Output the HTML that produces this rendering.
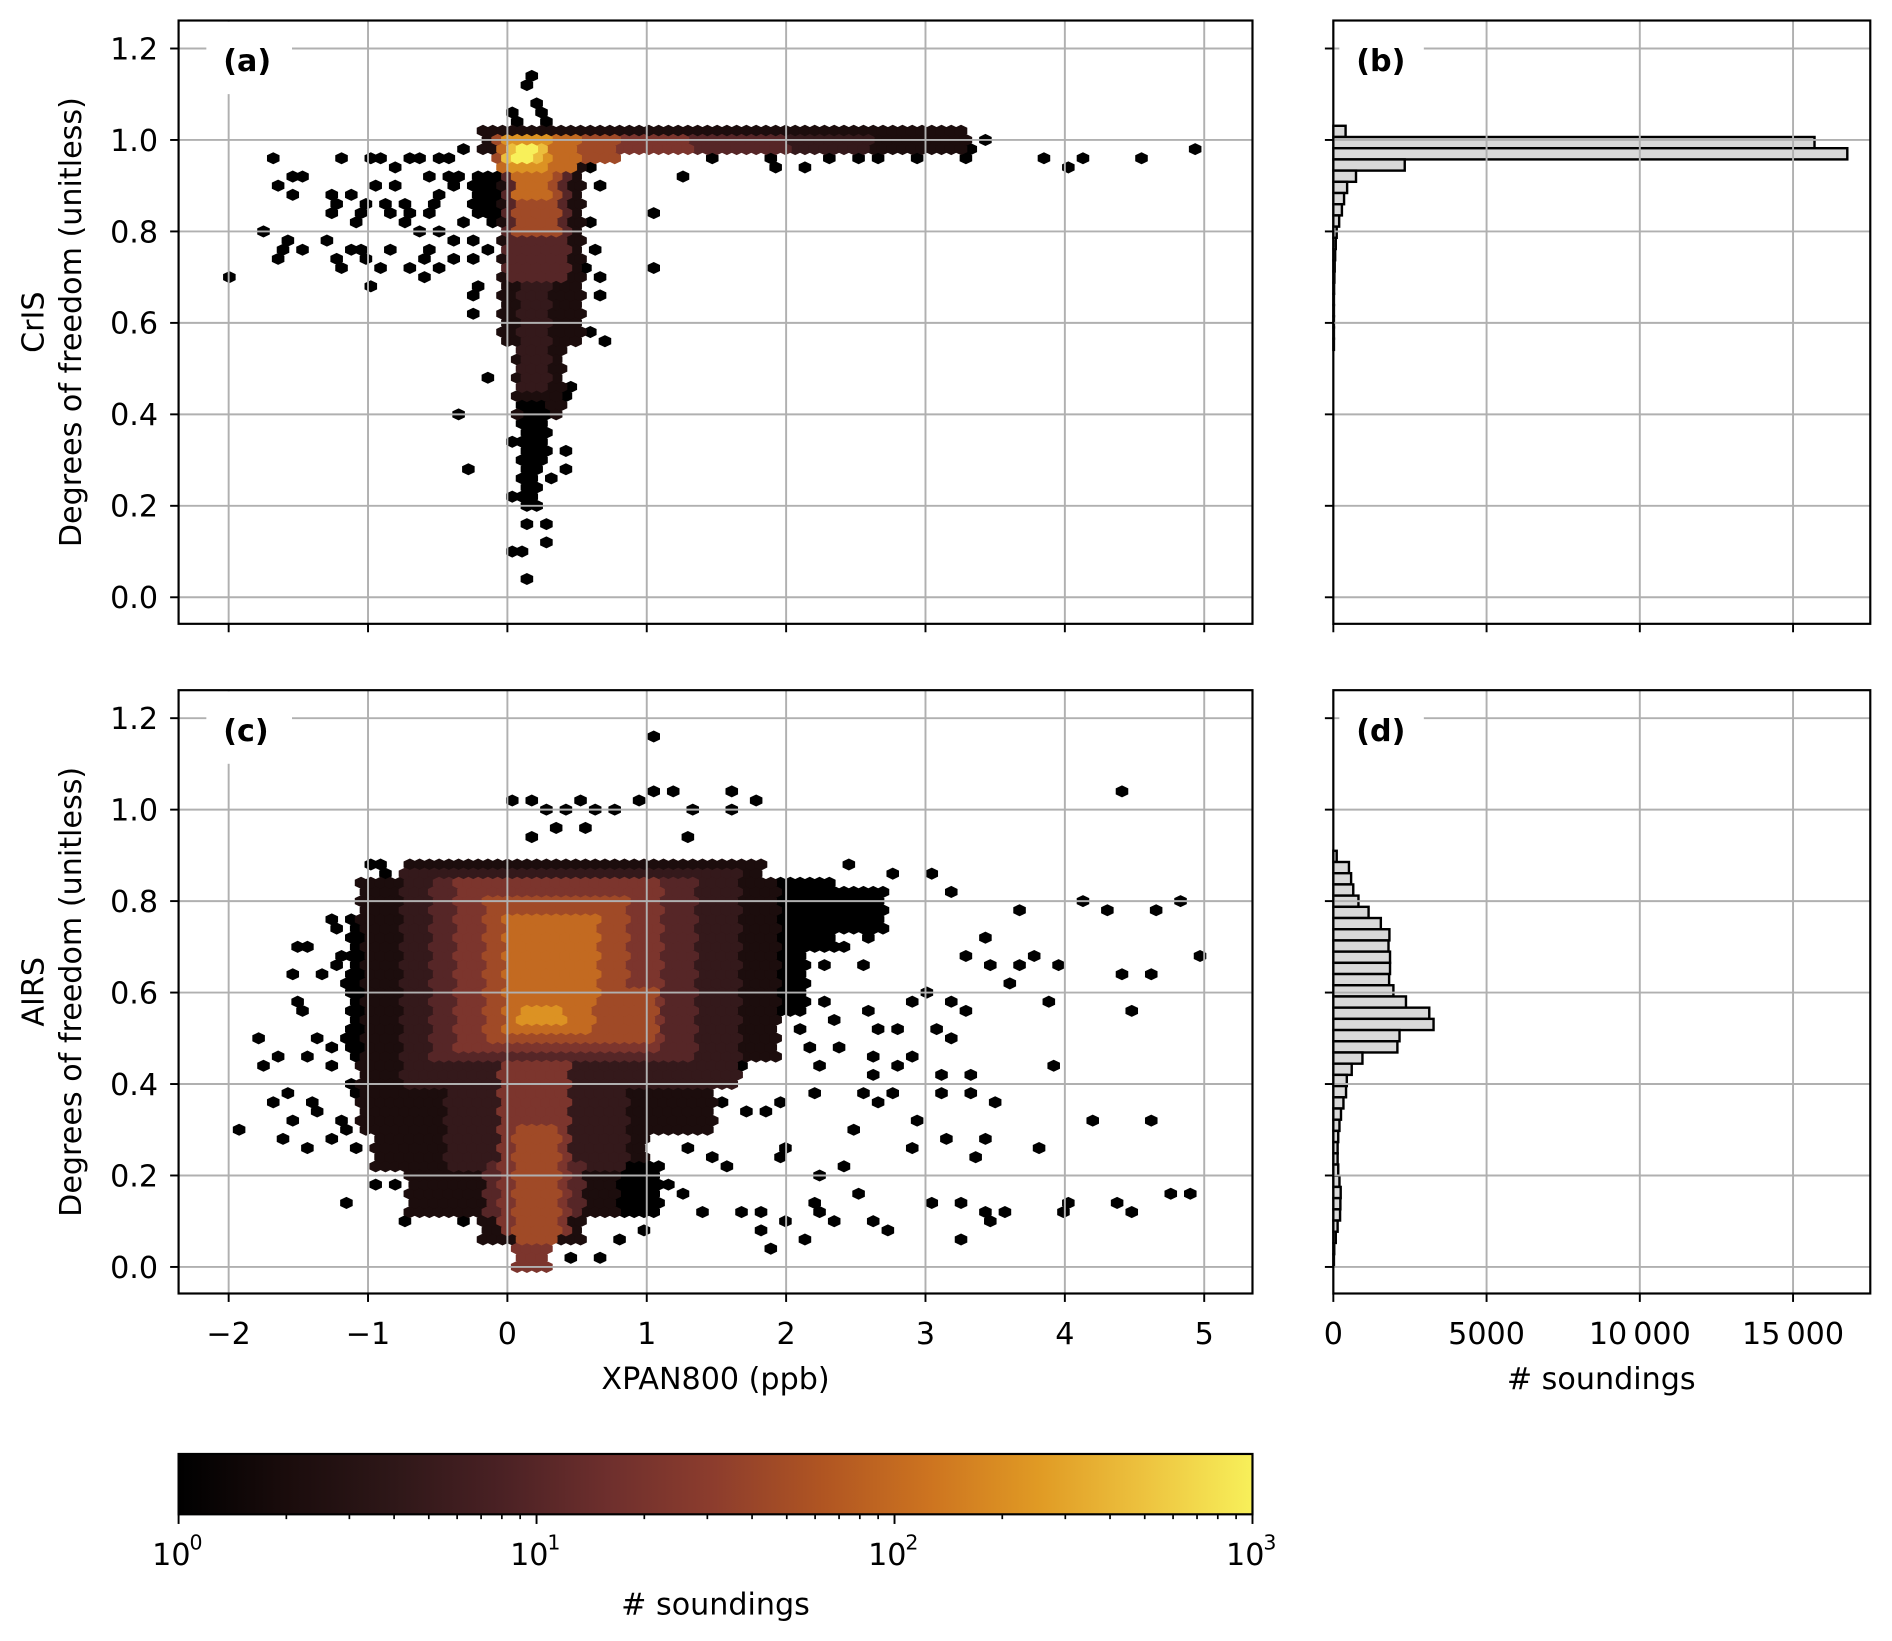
<!DOCTYPE html>
<html><head><meta charset="utf-8">
<style>
html,body{margin:0;padding:0;background:#fff;}
svg{display:block;font-family:"DejaVu Sans","Liberation Sans",sans-serif;}
</style></head>
<body>
<svg id="fig" xmlns="http://www.w3.org/2000/svg" width="1892" height="1641" viewBox="0 0 1568 1360" preserveAspectRatio="none">
<defs>
<linearGradient id="cmapgrad" x1="0" x2="1" y1="0" y2="0">
<stop offset="0" stop-color="#000000"/><stop offset="0.1" stop-color="#1a0c0c"/><stop offset="0.2" stop-color="#2e1718"/><stop offset="0.3" stop-color="#4a2124"/><stop offset="0.4" stop-color="#6e2f2d"/><stop offset="0.5" stop-color="#8d3d2d"/><stop offset="0.6" stop-color="#b05522"/><stop offset="0.7" stop-color="#cd7420"/><stop offset="0.8" stop-color="#e09a24"/><stop offset="0.9" stop-color="#edc33f"/><stop offset="1" stop-color="#f8f05a"/>
</linearGradient>
</defs>
</svg>
<script>
// ---------------- DATA ----------------
// hexbin dense blocks: [yMin, yMax, xMin, xMax, level]  (level 0..9 ; log10(count)=level/3)
const blocksA = [
 [0.55,0.95,-0.05,0.55,1],[0.40,0.60,0.05,0.40,1],[0.30,0.42,0.10,0.30,0],[0.20,0.30,0.10,0.22,0],
 [0.84,0.93,-0.25,-0.05,0],[0.45,0.70,0.10,0.30,2],
 [0.97,1.02,-0.20,3.30,1],[0.97,1.01,-0.10,2.60,2],[0.965,1.005,0.60,2.00,3],[0.965,1.005,0.30,1.30,4],
 [0.70,0.94,0.00,0.45,3],[0.80,0.94,0.05,0.35,5],[0.95,1.01,-0.10,0.80,5],
 [0.88,0.95,0.05,0.30,6],[0.94,1.00,-0.05,0.50,6],[0.94,1.00,0.00,0.30,7],
 [0.95,0.99,0.00,0.25,8],[0.96,0.99,0.05,0.20,9]
];
const pointsA = [
 [0.17,1.138],[0.17,1.115],[0.21,1.083],[0.07,1.06],[0.24,1.05],[0.07,1.04],[0.31,1.033],
 [3.84,0.958],[4.02,0.947],[4.16,0.968],[4.54,0.958],[4.95,0.978],[3.42,1.0],[3.29,0.957],[3.34,0.98],[3.19,0.97],[2.96,0.966],[2.65,0.957],[2.53,0.966],[2.33,0.966],[2.12,0.947],[1.91,0.947],[1.88,0.958],[1.50,0.966],[1.29,0.926],[1.08,0.842],[1.05,0.726],[2.08,0.98],[2.78,0.97],[3.14,1.0],[3.06,1.0],
 [-1.69,0.958],[-1.16,0.968],[-1.01,0.958],[-0.88,0.968],[-0.81,0.947],[-0.71,0.958],[-0.60,0.968],[-0.50,0.958],[-0.39,0.968],[-0.28,0.98],[-1.44,0.916],[-1.51,0.916],[-1.61,0.895],[-1.51,0.883],[-1.23,0.883],[-1.10,0.883],[-0.91,0.895],[-0.77,0.895],[-1.20,0.853],[-1.03,0.864],[-0.88,0.853],[-0.74,0.864],[-1.27,0.832],[-1.03,0.832],[-0.86,0.842],[-0.73,0.815],[-0.59,0.832],[-0.53,0.853],[-0.48,0.873],[-0.53,0.916],[-0.43,0.916],[-0.36,0.90],[-0.33,0.916],[-1.72,0.80],[-1.55,0.789],[-1.44,0.769],[-1.59,0.758],[-1.30,0.779],[-1.14,0.769],[-1.03,0.76],[-0.84,0.769],[-1.65,0.737],[-1.23,0.738],[-1.16,0.715],[-0.99,0.748],[-0.91,0.727],[-0.71,0.727],[-0.63,0.705],[-0.59,0.737],[-0.53,0.758],[-0.48,0.725],[-0.39,0.779],[-0.39,0.737],[-0.46,0.80],[-0.61,0.80],[-0.23,0.737],[-0.15,0.768],[-0.06,0.747],[-1.96,0.705],[-0.95,0.674],[-0.18,0.674],[-0.26,0.652],[-0.23,0.624],[-0.31,0.81],[-0.23,0.787],[-0.13,0.822],[-1.09,0.822],[-0.73,0.83],
 [0.62,0.94],[0.66,0.904],[0.62,0.81],[0.62,0.768],[0.59,0.715],[0.66,0.695],[0.66,0.652],[0.62,0.58],[0.69,0.557],[0.41,0.557],[0.45,0.46],[0.49,0.452],[0.37,0.526],[0.41,0.316],[0.41,0.284],[0.31,0.253],[0.27,0.16],[0.31,0.128],[0.12,0.031],[-0.15,0.474],[-0.32,0.401],[-0.28,0.284],[0.03,0.337],[0.07,0.222],[0.13,0.242],[0.10,0.097],[0.07,0.093],[0.12,0.152],[0.37,0.401],[0.40,0.44]
];
const blocksC = [
 [0.85,0.89,-0.75,1.85,1],[0.45,0.85,-1.05,1.95,1],[0.30,0.45,-1.05,1.50,1],[0.22,0.30,-0.95,1.00,1],
 [0.12,0.22,-0.70,0.80,1],[0.05,0.12,-0.20,0.55,1],[0.12,0.22,0.80,1.10,0],
 [0.70,0.85,1.95,2.35,0],[0.74,0.82,2.35,2.70,0],[0.55,0.70,1.95,2.15,0],[0.45,0.75,-1.15,-1.05,0],
 [0.40,0.87,-0.75,1.65,2],[0.22,0.40,-0.45,0.85,2],[0.55,0.80,1.65,1.80,1],
 [0.45,0.85,-0.55,1.35,3],[0.12,0.22,-0.15,0.55,3],
 [0.48,0.84,-0.35,1.10,4],[0.08,0.45,-0.05,0.45,4],[0.00,0.05,0.05,0.30,4],
 [0.05,0.30,0.05,0.35,5],[0.50,0.80,-0.15,0.85,5],[0.50,0.60,0.00,1.05,5],
 [0.58,0.76,0.00,0.65,6],[0.52,0.58,0.00,0.60,6],[0.53,0.57,0.10,0.40,7]
];
const pointsC = [
 [0.06,1.021],[0.20,1.023],[0.27,1.0],[0.41,1.0],[0.55,1.023],[0.62,1.0],[0.80,1.0],[0.95,1.012],[1.08,1.032],[1.22,1.032],[1.33,1.0],[1.60,1.042],[1.78,1.012],[1.60,1.0],[0.59,0.968],[0.35,0.957],[0.20,0.937],[1.33,0.937],[4.40,1.042],[1.06,1.16],
 [2.48,0.884],[2.78,0.863],[3.03,0.863],[3.19,0.81],[3.66,0.779],[4.16,0.80],[4.29,0.779],[4.62,0.789],[4.84,0.80],[3.43,0.725],[3.31,0.675],[3.43,0.664],[3.64,0.664],[3.77,0.679],[3.98,0.664],[4.99,0.675],[4.43,0.632],[4.62,0.643],[3.60,0.611],[3.88,0.588],[4.50,0.568],[3.17,0.588],[3.27,0.558],[3.0,0.60],[2.89,0.588],[2.61,0.568],[2.37,0.538],[2.68,0.528],[2.79,0.517],[3.06,0.528],[3.16,0.506],[3.91,0.433],[3.29,0.423],[3.10,0.423],[2.94,0.463],[2.66,0.463],[2.37,0.474],[2.16,0.474],[2.26,0.433],[2.66,0.412],[2.78,0.433],[2.23,0.389],[2.52,0.379],[2.68,0.363],[2.76,0.379],[3.14,0.379],[3.35,0.389],[3.51,0.357],[2.94,0.325],[2.51,0.305],[4.19,0.325],[4.62,0.325],[3.14,0.284],[3.43,0.284],[2.94,0.263],[3.84,0.263],[3.35,0.242],[2.0,0.263],[1.95,0.242],[2.41,0.212],[2.23,0.201],[1.53,0.357],[1.74,0.348],[1.88,0.348],[1.99,0.357],[1.50,0.231],[1.60,0.22],[2.51,0.158],[3.05,0.148],[3.25,0.148],[4.78,0.169],[4.92,0.169],[4.37,0.148],[4.50,0.126],[4.05,0.137],[4.02,0.126],[3.60,0.126],[3.43,0.114],[3.46,0.103],[2.76,0.084],[2.66,0.096],[2.37,0.096],[2.19,0.148],[2.23,0.126],[3.25,0.063],[2.16,0.053],[1.88,0.032],[1.84,0.084],[1.68,0.114],[1.83,0.114],[2.03,0.105],
 [2.05,0.62],[2.25,0.66],[2.4,0.70],[2.55,0.66],[2.6,0.72],[2.3,0.58],[2.1,0.52],[1.95,0.49],[1.7,0.44],[1.6,0.40],[1.4,0.36],[1.2,0.30],[1.3,0.25],[1.15,0.18],[1.25,0.15],[1.4,0.12],[1.0,0.08],[0.8,0.06],[-0.3,0.10],[-0.5,0.14],
 [-1.16,0.148],[-1.90,0.305],[-1.61,0.284],[-1.44,0.252],[-1.52,0.316],[-1.65,0.357],[-1.58,0.379],[-1.41,0.368],[-1.34,0.348],[-1.75,0.494],[-1.65,0.463],[-1.75,0.433],[-1.44,0.463],[-1.40,0.494],[-1.47,0.581],[-1.47,0.558],[-1.55,0.643],[-1.47,0.705],[-1.44,0.694],[-1.29,0.769],[-1.14,0.769],[-1.24,0.739],[-1.13,0.72],[-1.19,0.686],[-1.21,0.664],[-1.31,0.632],[-1.16,0.611],[-1.14,0.566],[-1.16,0.506],[-1.26,0.472],[-1.29,0.445],[-0.98,0.876],[-0.88,0.884],[-0.86,0.853],[-0.93,0.844],[-1.06,0.833],[-1.01,0.81],[-1.21,0.329],[-1.26,0.284],[-1.18,0.302],[-1.1,0.38],[-1.15,0.40],[-1.08,0.26],[-0.91,0.178],[-0.78,0.178],[-0.73,0.107],[-0.61,0.169],
 [0.10,-0.002],[0.66,0.02],[0.45,0.02]
];
// marginal histograms
const histBTop = 1.031, histBWidth = 0.0245;
const histBCounts = [400,15700,16770,2330,740,450,350,280,190,110,80,60,45,35,25,18,12,8,5,3];
const histDTop = 0.91, histDWidth = 0.0245;
const histDCounts = [110,510,580,650,820,1150,1550,1830,1800,1850,1850,1820,1960,2370,3130,3270,2160,2090,950,600,440,415,330,250,200,160,140,140,160,200,240,230,220,140,80,30,10];
// ticks
const xTicks = [-2,-1,0,1,2,3,4,5];
const xTickLabels = ["\u22122","\u22121","0","1","2","3","4","5"];
const yTicks = [0,0.2,0.4,0.6,0.8,1.0,1.2];
const yTickLabels = ["0.0","0.2","0.4","0.6","0.8","1.0","1.2"];
const histTicks = [0,5000,10000,15000];
const histTickLabels = ["0","5000","10\u2009000","15\u2009000"];
const cbarExps = [0,1,2,3];

// ---------------- LAYOUT ----------------
const NS = "http://www.w3.org/2000/svg";
const svg = document.getElementById('fig');
const L = 148, R = 1038, HL = 1105, HR = 1550;
const panels = {a:{top:17,bottom:517,y0:495}, c:{top:572,bottom:1072,y0:1050}};
const yScale = 379, xScale = 115.5, x0px = 420.5, hScale = 127/5000;
const FS = 25;
function px(x){return x0px + x*xScale;}
function py(p,y){return p.y0 - y*yScale;}
function hx(c){return HL + c*hScale;}
function mk(tag, attrs, parent){const e=document.createElementNS(NS,tag);for(const k in attrs)e.setAttribute(k,attrs[k]);(parent||svg).appendChild(e);return e;}
const stops=[[0,0,0],[26,12,12],[46,23,24],[74,33,36],[110,47,45],[141,61,45],[176,85,34],[205,116,32],[224,154,36],[237,195,63],[248,240,90]];
function cmap(t){t=Math.max(0,Math.min(1,t));const f=t*10;const i=Math.min(9,Math.floor(f));const u=f-i;const a=stops[i],b=stops[i+1];return 'rgb('+a.map((v,k)=>Math.round(v+(b[k]-v)*u)).join(',')+')';}

const DX=0.07, DY=0.02;
function buildGrid(blocks, points){
  const cells = new Map();
  const key=(k,i)=>k+'_'+i;
  for(const b of blocks){
    for(let k=-3;k<=62;k++){
      const y=k*DY; if(y<b[0]-1e-9||y>b[1]+1e-9) continue;
      const off=-2.1+(Math.abs(k)%2)*DX/2;
      for(let i=0;i<120;i++){const x=off+i*DX; if(x>=b[2]-1e-9&&x<=b[3]+1e-9) cells.set(key(k,i),[x,y,b[4]]);}
    }
  }
  for(const p of points){
    const k=Math.round(p[1]/DY); const off=-2.1+(Math.abs(k)%2)*DX/2; const i=Math.round((p[0]-off)/DX);
    if(!cells.has(key(k,i))) cells.set(key(k,i),[off+i*DX,k*DY,p[2]||0]);
  }
  return [...cells.values()];
}
function hexPath(cx,cy){const w=5.2,h=5.0,h2=2.5;return `M${cx},${cy-h}L${cx+w},${cy-h2}L${cx+w},${cy+h2}L${cx},${cy+h}L${cx-w},${cy+h2}L${cx-w},${cy-h2}Z`;}

function drawHexPanel(p, blocks, points, name){
  const g=mk('g',{});
  
  
  const cells=buildGrid(blocks,points);
  cells.sort((a,b)=>a[2]-b[2]);
  for(const c of cells){
    const h=mk('path',{d:hexPath(px(c[0]),py(p,c[1])),fill:cmap(c[2]/9)},g);
    
    
  }
}
function drawGrid(p, left, right, xs, name){
  const g=mk('g',{stroke:'#b0b0b0','stroke-width':1.6});
  
  
  for(const v of yTicks) mk('line',{x1:left,x2:right,y1:py(p,v),y2:py(p,v)},g);
  for(const x of xs) mk('line',{x1:x,x2:x,y1:p.top,y2:p.bottom},g);
}
function drawFrame(p,left,right,name){
  const r=mk('rect',{x:left,y:p.top,width:right-left,height:p.bottom-p.top,fill:'none',stroke:'#000','stroke-width':1.8});
  
  
  const g=mk('g',{stroke:'#000','stroke-width':1.6});
  for(const v of yTicks) mk('line',{x1:left-7,x2:left,y1:py(p,v),y2:py(p,v)},g);
}
function yTickText(p,name){
  yTicks.forEach((v,i)=>{const t=mk('text',{x:131,y:py(p,v)+9,'font-size':FS,'text-anchor':'end'});t.textContent=yTickLabels[i];
  
  });
}
function drawHist(p, top, width, counts, name){
  const g=mk('g',{fill:'#d9d9d9',stroke:'#000','stroke-width':2});
  
  
  counts.forEach((c,i)=>{
    const yt=top-i*width, yb=yt-width;
    const r=mk('rect',{x:HL,y:py(p,yt),width:Math.max(0.5,hx(c)-HL),height:py(p,yb)-py(p,yt)},g);
    
    
  });
}
function panelLabel(p,left,text,name){
  mk('rect',{x:left+23,y:p.top+1,width:71,height:60,fill:'#fff'});
  const t=mk('text',{x:left+37,y:p.top+42,'font-size':25,'font-weight':'bold',fill:'#000'});
  t.textContent=text;
  
  
}

// ---- panel a & c
for(const [id,blocks,points,lab,sat] of [['a',blocksA,pointsA,'(a)','CrIS'],['c',blocksC,pointsC,'(c)','AIRS']]){
  const p=panels[id];
  drawHexPanel(p,blocks,points,'panel-'+id);
  drawGrid(p,L,R,xTicks.map(px),'panel-'+id);
  panelLabel(p,L,lab,'panel-label-'+id);
  drawFrame(p,L,R,'panel-'+id);
  const tg=mk('g',{stroke:'#000','stroke-width':1.6});
  for(const x of xTicks) mk('line',{x1:px(x),x2:px(x),y1:p.bottom,y2:p.bottom+7},tg);
  yTickText(p,'panel-'+id);
  const cy=(p.top+p.bottom)/2;
  const t1=mk('text',{x:0,y:0,'font-size':FS,'text-anchor':'middle',transform:`translate(36,${cy}) rotate(-90)`});t1.textContent=sat;
  
  
  const t2=mk('text',{x:0,y:0,'font-size':FS,'text-anchor':'middle',transform:`translate(67,${cy}) rotate(-90)`});t2.textContent='Degrees of freedom (unitless)';
  
  
}
xTicks.forEach((x,i)=>{const t=mk('text',{x:px(x),y:1114,'font-size':FS,'text-anchor':'middle'});t.textContent=xTickLabels[i];
  
  });
const xl=mk('text',{x:593,y:1151,'font-size':FS,'text-anchor':'middle'});xl.textContent='XPAN800 (ppb)';



// ---- panel b & d
for(const [id,top,w,counts,lab] of [['b',histBTop,histBWidth,histBCounts,'(b)'],['d',histDTop,histDWidth,histDCounts,'(d)']]){
  const p=panels[id==='b'?'a':'c'];
  drawHist(p,top,w,counts,'panel-'+id);
  drawGrid(p,HL,HR,histTicks.map(hx),'panel-'+id);
  mk('rect',{x:HL+5,y:p.top+1,width:70,height:60,fill:'#fff'});
  const tl=mk('text',{x:HL+19,y:p.top+42,'font-size':25,'font-weight':'bold'});tl.textContent=lab;
  
  
  drawFrame(p,HL,HR,'panel-'+id);
  const tg=mk('g',{stroke:'#000','stroke-width':1.6});
  for(const v of histTicks) mk('line',{x1:hx(v),x2:hx(v),y1:p.bottom,y2:p.bottom+7},tg);
}
histTicks.forEach((v,i)=>{const t=mk('text',{x:hx(v),y:1114,'font-size':FS,'text-anchor':'middle'});t.textContent=histTickLabels[i];
  
  });
const hl=mk('text',{x:1327,y:1151,'font-size':FS,'text-anchor':'middle'});hl.textContent='# soundings';



// ---- colorbar
const CT=1205, CB=1255;
const cb=mk('rect',{x:L,y:CT,width:R-L,height:CB-CT,fill:'url(#cmapgrad)',stroke:'#000','stroke-width':1.8});


function cx(e){return L+(R-L)*e/3;}
const cg=mk('g',{stroke:'#000','stroke-width':1.4});
for(let d=0;d<3;d++) for(let m=2;m<=9;m++){const x=cx(d+Math.log10(m));mk('line',{x1:x,x2:x,y1:CB,y2:CB+4},cg);}
for(const e of cbarExps){mk('line',{x1:cx(e),x2:cx(e),y1:CB,y2:CB+8,'stroke-width':1.6},cg);
  const t=mk('text',{x:cx(e)-6,y:1297,'font-size':FS,'text-anchor':'middle'});
  t.textContent='10';
  
  
  const s=mk('text',{x:cx(e)+9,y:1284,'font-size':17,'text-anchor':'start'});s.textContent=String(e);
  
  
}
const cl=mk('text',{x:593,y:1338,'font-size':FS,'text-anchor':'middle'});cl.textContent='# soundings';


</script>
</body></html>
